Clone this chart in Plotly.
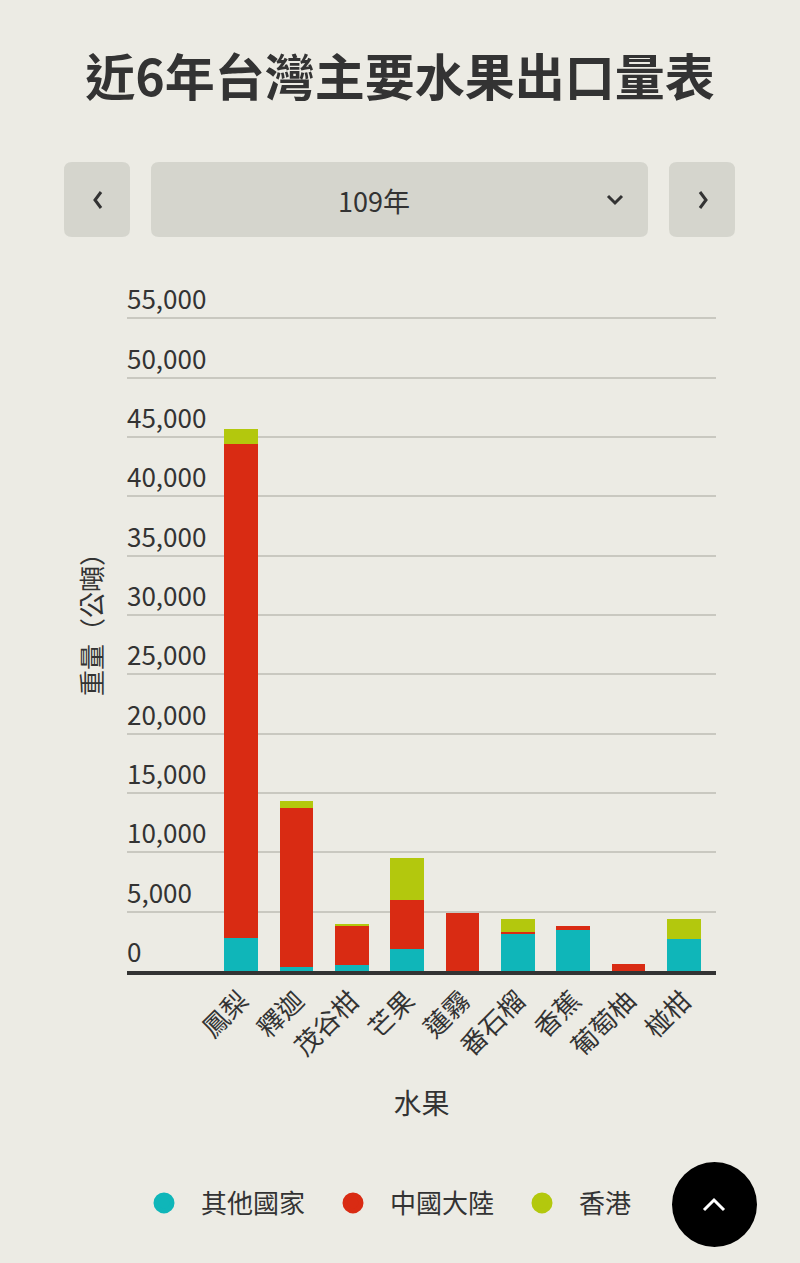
import plotly.graph_objects as go

categories = ['鳳梨', '釋迦', '茂谷柑', '芒果', '蓮霧', '番石榴', '香蕉', '葡萄柚', '椪柑']
other_countries = [2780, 300, 480, 1830, 0, 3120, 3460, 0, 2720]
china = [41650, 13400, 3310, 4160, 4890, 150, 360, 620, 0]
hong_kong = [1270, 600, 170, 3570, 0, 1100, 0, 0, 1640]

series_names = ['其他國家', '中國大陸', '香港']
series_colors = ['#0fb6b9', '#d92b13', '#b3c80d']
year_label = '109年'
title_text = '近6年台灣主要水果出口量表'
y_title = '重量（公噸）'
x_title = '水果'

W, H = 800, 1263
Y_MAX = 59500
L, R, B = 127, 84, 292
PH = round(Y_MAX * 0.011862)
T = H - B - PH
PW = W - L - R
FONT = 'Noto Sans CJK TC, Noto Sans, sans-serif'
BG = '#ecebe4'
INK = '#333333'


def px(x):
    return (x - L) / PW


def py(y):
    return (H - B - y) / PH


def rounded_rect(x0, y0, x1, y1, r):
    return (f"M {px(x0 + r)} {py(y0)} L {px(x1 - r)} {py(y0)} "
            f"Q {px(x1)} {py(y0)} {px(x1)} {py(y0 + r)} "
            f"L {px(x1)} {py(y1 - r)} Q {px(x1)} {py(y1)} {px(x1 - r)} {py(y1)} "
            f"L {px(x0 + r)} {py(y1)} Q {px(x0)} {py(y1)} {px(x0)} {py(y1 - r)} "
            f"L {px(x0)} {py(y0 + r)} Q {px(x0)} {py(y0)} {px(x0 + r)} {py(y0)} Z")


def polyline(points):
    return 'M ' + ' L '.join(f"{px(a)} {py(b)}" for a, b in points)


fig = go.Figure()
for name, vals, col in zip(series_names, [other_countries, china, hong_kong], series_colors):
    fig.add_trace(go.Bar(
        x=categories, y=vals, name=name, marker=dict(color=col, line=dict(width=0)),
        width=0.61, legendgroup=name, showlegend=False,
    ))
    fig.add_trace(go.Scatter(
        x=[None], y=[None], mode='markers', name=name, legendgroup=name,
        marker=dict(color=col, size=16, symbol='circle', line=dict(color=col, width=5)),
    ))

shapes = []
btn_col = '#d5d5cd'
for x0, x1 in [(64, 130), (151, 648), (669, 735)]:
    shapes.append(dict(type='path', xref='paper', yref='paper', path=rounded_rect(x0, 162, x1, 237, 8),
                       fillcolor=btn_col, line=dict(width=0), layer='below'))
shapes.append(dict(type='path', xref='paper', yref='paper', path=polyline([(101, 192), (95, 200), (101, 208)]),
                   line=dict(color=INK, width=3)))
shapes.append(dict(type='path', xref='paper', yref='paper', path=polyline([(700, 192), (706, 200), (700, 208)]),
                   line=dict(color=INK, width=3)))
shapes.append(dict(type='path', xref='paper', yref='paper', path=polyline([(608, 196), (615, 203), (622, 196)]),
                   line=dict(color=INK, width=3)))
shapes.append(dict(type='circle', xref='paper', yref='paper', x0=px(672), x1=px(757), y0=py(1247), y1=py(1162),
                   fillcolor='#000000', line=dict(width=0)))
shapes.append(dict(type='path', xref='paper', yref='paper', path=polyline([(704, 1210), (714, 1200), (724, 1210)]),
                   line=dict(color='#ffffff', width=3)))

annotations = [dict(text=year_label, xref='paper', yref='paper', x=px(374), y=py(200), showarrow=False,
                    font=dict(family=FONT, size=27, color=INK), xanchor='center', yanchor='middle')]

fig.update_layout(
    width=W, height=H,
    margin=dict(l=L, r=R, t=T, b=B),
    paper_bgcolor=BG, plot_bgcolor=BG,
    font=dict(family=FONT, color=INK),
    title=dict(text='<b>' + title_text + '</b>', x=0.5, xanchor='center', y=1 - 78 / H, yanchor='middle',
               font=dict(family=FONT, size=50, color=INK)),
    barmode='stack',
    showlegend=True,
    legend=dict(orientation='h', x=0, xanchor='left', y=py(1203), yanchor='middle',
                font=dict(family=FONT, size=26, color=INK), itemwidth=64,
                entrywidth=110, entrywidthmode='pixels', bgcolor='rgba(0,0,0,0)'),
    shapes=shapes,
    annotations=annotations,
)
fig.update_xaxes(
    range=[-2.06, 8.58], showline=True, linecolor=INK, linewidth=4, showgrid=False,
    tickangle=-45, tickfont=dict(family=FONT, size=26, color=INK), ticks='',
    title=dict(text=x_title, font=dict(family=FONT, size=28, color=INK), standoff=34),
    fixedrange=True,
)
fig.update_yaxes(
    range=[0, Y_MAX], dtick=5000, tickformat=',', showgrid=True, gridcolor='#c9c8c0', gridwidth=2,
    zeroline=False, showline=False, ticklabelposition='inside top', ticklabelstandoff=-3,
    tickfont=dict(family=FONT, size=26, color=INK), ticks='',
    title=dict(text=y_title, font=dict(family=FONT, size=26, color=INK), standoff=16),
    fixedrange=True,
)

fig.write_html('out.html', config={'displayModeBar': False},
               post_script="document.body.style.margin='0';")
